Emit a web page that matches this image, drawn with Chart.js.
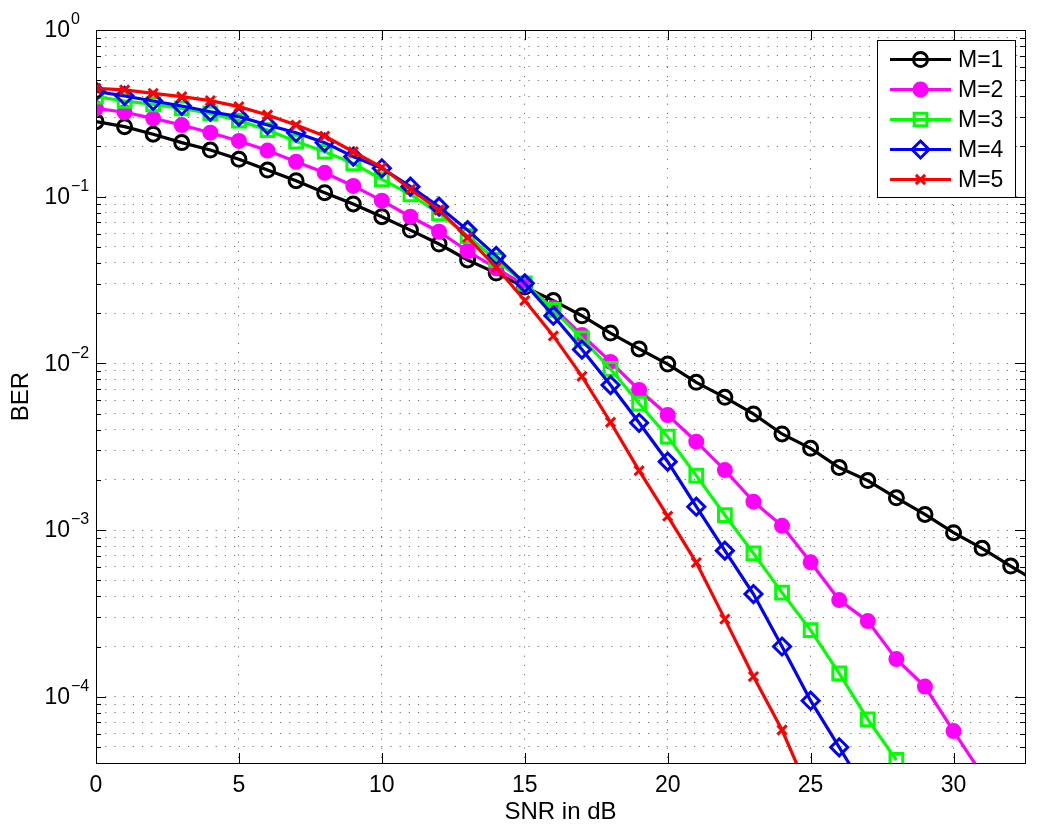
<!DOCTYPE html>
<html>
<head>
<meta charset="utf-8">
<script src="https://cdn.jsdelivr.net/npm/chart.js@4.4.0/dist/chart.umd.min.js"></script>
<style>
  html, body { margin: 0; padding: 0; background: #fff; }
  #wrap { width: 1040px; height: 832px; }
</style>
</head>
<body>
<div id="wrap"><canvas id="berChart" width="1040" height="832"></canvas></div>
<script>
// SNR values (dB) and BER curves
const snr = [0, 1, 2, 3, 4, 5, 6, 7, 8, 9, 10, 11, 12, 13, 14, 15, 16, 17, 18, 19, 20,
             21, 22, 23, 24, 25, 26, 27, 28, 29, 30, 31, 32, 33];
const berM1 = [0.282, 0.263, 0.237, 0.211, 0.1905, 0.1676, 0.1445, 0.1247, 0.1057, 0.0904,
               0.0758, 0.063, 0.052, 0.0417, 0.0348, 0.0287, 0.0238, 0.0193, 0.0152, 0.0122,
               0.0099, 0.00769, 0.00625, 0.00497, 0.00377, 0.00309, 0.00237, 0.00198, 0.00156,
               0.00124, 0.000964, 0.000777, 0.000608, 0.00048];
const berM2 = [0.339, 0.321, 0.295, 0.269, 0.242, 0.216, 0.189, 0.162, 0.139, 0.116,
               0.0946, 0.0758, 0.0616, 0.0472, 0.0372, 0.0295, 0.0215, 0.0148, 0.0102, 0.00692,
               0.0049, 0.00339, 0.00229, 0.00148, 0.00106, 0.00064, 0.00038, 0.000284, 0.000168,
               0.000115, 0.0000622, 0.0000341];
const berM3 = [0.398, 0.375, 0.358, 0.339, 0.316, 0.286, 0.251, 0.214, 0.186, 0.1585,
               0.127, 0.1033, 0.0794, 0.058, 0.0417, 0.0302, 0.0209, 0.0141, 0.00925, 0.00574,
               0.00363, 0.00212, 0.00123, 0.000724, 0.000421, 0.000251, 0.000138, 0.0000731, 0.0000417];
const berM4 = [0.428, 0.402, 0.375, 0.35, 0.323, 0.302, 0.269, 0.242, 0.211, 0.174,
               0.148, 0.1148, 0.0871, 0.063, 0.0441, 0.0302, 0.0193, 0.0121, 0.00741, 0.0044,
               0.00257, 0.00138, 0.000752, 0.000413, 0.0002, 0.0000946, 0.0000497, 0.000026];
const berM5 = [0.447, 0.437, 0.417, 0.398, 0.377, 0.347, 0.309, 0.269, 0.231, 0.186,
               0.15, 0.1107, 0.0832, 0.057, 0.0377, 0.0238, 0.0146, 0.00836, 0.00443, 0.00227,
               0.00121, 0.000637, 0.000292, 0.000132, 0.0000631, 0.0000254];

const seriesLabels = ['M=1', 'M=2', 'M=3', 'M=4', 'M=5'];
const xTicks = [0, 5, 10, 15, 20, 25, 30];
const yDecades = [-4, -3, -2, -1, 0];

const FONT = "'Liberation Sans', Arial, Helvetica, sans-serif";
const gridColor = 'rgba(0,0,0,0.55)';

// log grid: every 1..9 x 10^k inside the range
const yMin = 4e-5, yMax = 1;
const yTickValues = [];
for (let k = -5; k <= 0; k++) {
    for (let m = 1; m <= 9; m++) {
        const v = m * Math.pow(10, k);
        if (v >= yMin * 0.999 && v <= yMax * 1.0001) yTickValues.push(v);
    }
}

const styles = [
    {color: '#000000', point: 'circle', radius: 7, fill: 'rgba(0,0,0,0)'},
    {color: '#ff00ff', point: 'circle', radius: 6.5, fill: '#ff00ff'},
    {color: '#00ff00', point: 'rect', radius: 9, fill: 'rgba(0,0,0,0)'},
    {color: '#0000ff', point: 'rectRot', radius: 8.5, fill: 'rgba(0,0,0,0)'},
    {color: '#ff0000', point: 'crossRot', radius: 6.5, fill: 'rgba(0,0,0,0)'}
];

const allSeries = [berM1, berM2, berM3, berM4, berM5];

const datasets = allSeries.map((vals, i) => ({
    label: seriesLabels[i],
    data: vals.map((v, j) => ({x: snr[j], y: v})),
    borderColor: styles[i].color,
    borderWidth: 3.2,
    pointStyle: styles[i].point,
    pointRadius: styles[i].radius,
    pointBorderWidth: 3,
    pointBorderColor: styles[i].color,
    pointBackgroundColor: styles[i].fill,
    tension: 0,
    fill: false,
    order: 5 - i
}));

function drawMarker(ctx, s, x, y) {
    ctx.save();
    ctx.lineWidth = 3;
    ctx.strokeStyle = s.color;
    ctx.fillStyle = s.fill;
    const r = s.radius;
    ctx.beginPath();
    if (s.point === 'circle') {
        ctx.arc(x, y, r, 0, Math.PI * 2);
        ctx.fill();
        ctx.stroke();
    } else if (s.point === 'rect') {
        const h = r * Math.SQRT1_2;
        ctx.rect(x - h, y - h, 2 * h, 2 * h);
        ctx.stroke();
    } else if (s.point === 'rectRot') {
        ctx.moveTo(x, y - r);
        ctx.lineTo(x + r, y);
        ctx.lineTo(x, y + r);
        ctx.lineTo(x - r, y);
        ctx.closePath();
        ctx.stroke();
    } else {
        const h = r * Math.SQRT1_2;
        ctx.moveTo(x - h, y - h); ctx.lineTo(x + h, y + h);
        ctx.moveTo(x + h, y - h); ctx.lineTo(x - h, y + h);
        ctx.stroke();
    }
    ctx.restore();
}

// MATLAB-like frame: box, inward ticks, y labels with exponents, legend
const matlabFrame = {
    id: 'matlabFrame',
    afterDraw(chart) {
        const {ctx, chartArea: a, scales: {x, y}} = chart;
        ctx.save();
        ctx.strokeStyle = '#000';
        ctx.lineWidth = 1;
        ctx.setLineDash([]);
        ctx.strokeRect(Math.round(a.left) + 0.5, Math.round(a.top) + 0.5,
                       Math.round(a.right - a.left), Math.round(a.bottom - a.top));

        ctx.beginPath();
        xTicks.forEach(v => {
            const px = Math.round(x.getPixelForValue(v)) + 0.5;
            ctx.moveTo(px, a.bottom); ctx.lineTo(px, a.bottom - 10);
            ctx.moveTo(px, a.top); ctx.lineTo(px, a.top + 10);
        });
        yTickValues.forEach(v => {
            const py = Math.round(y.getPixelForValue(v)) + 0.5;
            const major = Math.abs(Math.log10(v) - Math.round(Math.log10(v))) < 1e-6;
            const len = major ? 10 : 5;
            ctx.moveTo(a.left, py); ctx.lineTo(a.left + len, py);
            ctx.moveTo(a.right, py); ctx.lineTo(a.right - len, py);
        });
        ctx.stroke();

        // y tick labels 10^k
        ctx.fillStyle = '#000';
        ctx.textBaseline = 'middle';
        yDecades.forEach(k => {
            const py = y.getPixelForValue(Math.pow(10, k));
            ctx.font = '23px ' + FONT;
            ctx.textAlign = 'right';
            ctx.fillText('10', 70, py + 1);
            ctx.font = '16px ' + FONT;
            ctx.textAlign = 'left';
            ctx.fillText(k === 0 ? '0' : '\u2212' + (-k), 71, py - 10);
        });

        // legend
        const lx = 877.5, ly = 40.5, lw = 138, lh = 157;
        ctx.fillStyle = '#fff';
        ctx.fillRect(lx, ly, lw, lh);
        ctx.strokeStyle = '#000';
        ctx.lineWidth = 1;
        ctx.strokeRect(lx, ly, lw, lh);
        styles.forEach((s, i) => {
            const ry = 59.5 + i * 30;
            ctx.beginPath();
            ctx.strokeStyle = s.color;
            ctx.lineWidth = 3.2;
            ctx.moveTo(890, ry); ctx.lineTo(951, ry);
            ctx.stroke();
            drawMarker(ctx, s, 920.5, ry);
            ctx.fillStyle = '#000';
            ctx.font = '23px ' + FONT;
            ctx.textAlign = 'left';
            ctx.textBaseline = 'middle';
            ctx.fillText(seriesLabels[i], 958, ry + 1);
        });
        ctx.restore();
    }
};

new Chart(document.getElementById('berChart'), {
    type: 'line',
    data: { datasets: datasets },
    options: {
        responsive: false,
        animation: false,
        layout: { padding: { top: 30, right: 15, left: 0, bottom: 0 } },
        plugins: { legend: { display: false }, tooltip: { enabled: false } },
        scales: {
            x: {
                type: 'linear',
                min: 0,
                max: 32.5,
                afterBuildTicks: s => { s.ticks = xTicks.map(v => ({value: v})); },
                afterFit: s => { s.height = 69; },
                grid: { color: gridColor, lineWidth: 1, drawTicks: false },
                border: { display: false, dash: [1.2, 8] },
                ticks: { font: { family: FONT, size: 23 }, color: '#000', padding: 9, maxRotation: 0 },
                title: { display: true, text: 'SNR in dB', color: '#000',
                         font: { family: FONT, size: 24 }, padding: { top: 0, bottom: 5 } }
            },
            y: {
                type: 'logarithmic',
                min: yMin,
                max: yMax,
                afterBuildTicks: s => { s.ticks = yTickValues.map(v => ({value: v})); },
                afterFit: s => { s.width = 96; },
                grid: { color: gridColor, lineWidth: 1, drawTicks: false },
                border: { display: false, dash: [1.2, 8] },
                ticks: { display: false },
                title: { display: true, text: 'BER', color: '#000',
                         font: { family: FONT, size: 24 }, padding: { top: 7, bottom: 0 } }
            }
        }
    },
    plugins: [matlabFrame]
});
</script>
</body>
</html>
